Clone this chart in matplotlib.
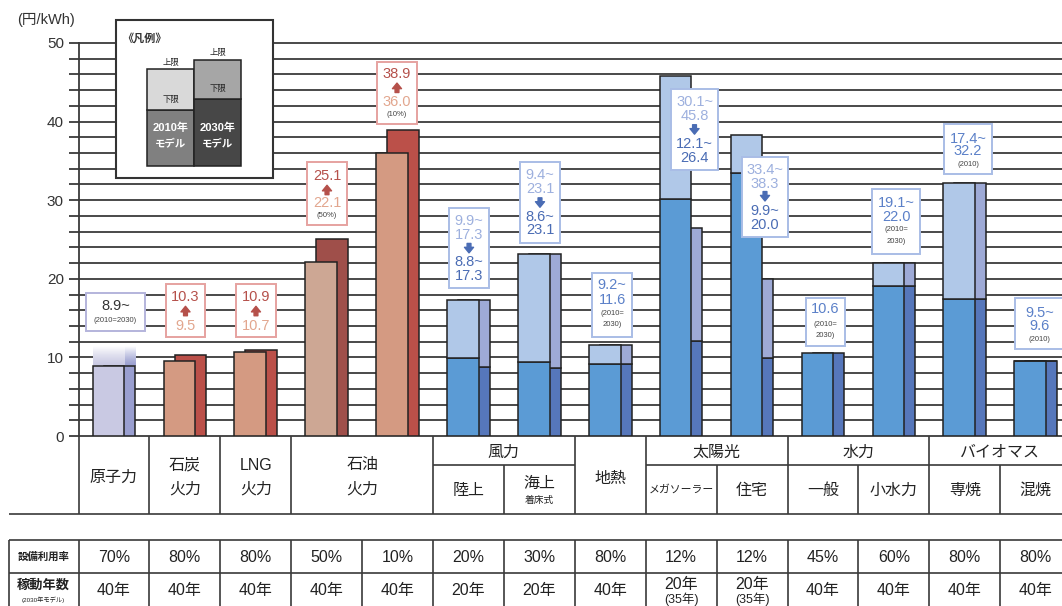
import numpy as np
import matplotlib.pyplot as plt
from matplotlib.patches import Rectangle
from matplotlib.colors import to_rgb

plt.rcParams['font.family'] = ['Liberation Sans', 'Noto Sans CJK JP', 'DejaVu Sans']

# 電源別発電コスト (円/kWh)  2010年モデル / 2030年モデル の下限・上限
sources = ['原子力', '石炭火力', 'LNG火力', '石油火力(50%)', '石油火力(10%)',
           '陸上風力', '海上風力', '地熱', 'メガソーラー', '住宅用太陽光',
           '一般水力', '小水力', 'バイオマス専焼', 'バイオマス混焼']
low_2010 = [8.9, 9.5, 10.7, 22.1, 36.0, 9.9, 9.4, 9.2, 30.1, 33.4, 10.6, 19.1, 17.4, 9.5]
high_2010 = [8.9, 9.5, 10.7, 22.1, 36.0, 17.3, 23.1, 11.6, 45.8, 38.3, 10.6, 22.0, 32.2, 9.6]
low_2030 = [8.9, 10.3, 10.9, 25.1, 38.9, 8.8, 8.6, 9.2, 12.1, 9.9, 10.6, 19.1, 17.4, 9.5]
high_2030 = [8.9, 10.3, 10.9, 25.1, 38.9, 17.3, 23.1, 11.6, 26.4, 20.0, 10.6, 22.0, 32.2, 9.6]
nuclear_open_top = 11.4   # 原子力は「8.9~」で上限なし

utilization = ['70%', '80%', '80%', '50%', '10%', '20%', '30%',
               '80%', '12%', '12%', '45%', '60%', '80%', '80%']
lifetime = ['40年', '40年', '40年', '40年', '40年', '20年', '20年',
            '40年', '20年', '20年', '40年', '40年', '40年', '40年']
lifetime_note = ['', '', '', '', '', '', '', '', '(35年)', '(35年)', '', '', '', '']

single_heads = [('原子力', 0, 1), ('石炭\n火力', 1, 2), ('LNG\n火力', 2, 3),
                ('石油\n火力', 3, 5), ('地熱', 7, 8)]
group_heads = [('風力', 5, 7), ('太陽光', 8, 10), ('水力', 10, 12), ('バイオマス', 12, 14)]
sub_heads = {5: '陸上', 6: '海上', 8: 'メガソーラー', 9: '住宅',
             10: '一般', 11: '小水力', 12: '専焼', 13: '混焼'}

# colour scheme per column
group = ['nuc', 'fos', 'fos', 'oil', 'fos'] + ['ren'] * 9
front_lo = {'nuc': '#c9c9e3', 'fos': '#d49a82', 'oil': '#cda794', 'ren': '#5b9bd5'}
front_hi = {'nuc': '#c9c9e3', 'fos': '#d49a82', 'oil': '#cda794', 'ren': '#b0c8e8'}
back_lo = {'nuc': '#9a9fd0', 'fos': '#bb5049', 'oil': '#9f4f4a', 'ren': '#5677bb'}
back_hi = {'nuc': '#9a9fd0', 'fos': '#bb5049', 'oil': '#9f4f4a', 'ren': '#9eaad6'}

# value boxes: column, x0, x1, y0, y1, kind, text centres
boxes = [
    (0, 0.106, 0.938, 13.4, 18.2, 'nuc', [16.6, 14.7]),
    (1, 1.234, 1.784, 12.6, 19.3, 'up', [17.7, 15.9, 14.0]),
    (2, 2.221, 2.785, 12.6, 19.3, 'up', [17.7, 15.9, 14.0]),
    (3, 3.223, 3.787, 26.8, 34.9, 'up', [33.1, 31.3, 29.6, 28.0]),
    (4, 4.210, 4.774, 39.7, 47.6, 'up', [46.1, 44.3, 42.5, 40.9]),
    (5, 5.226, 5.790, 18.8, 29.0, 'down', [27.4, 25.6, 23.9, 22.1, 20.3]),
    (6, 6.227, 6.791, 24.5, 34.9, 'down', [33.2, 31.4, 29.7, 27.8, 26.2]),
    (7, 7.243, 7.807, 12.6, 20.8, 'same', [19.2, 17.3, 15.6, 14.2]),
    (8, 8.357, 9.020, 33.8, 44.1, 'down', [42.5, 40.7, 39.0, 37.2, 35.4]),
    (9, 9.358, 10.007, 25.3, 35.5, 'down', [33.8, 32.1, 30.5, 28.6, 26.9]),
    (10, 10.261, 10.811, 11.4, 17.6, 'single', [16.1, 14.2, 12.8]),
    (11, 11.192, 11.869, 23.1, 31.4, 'same', [29.7, 27.9, 26.3, 24.7]),
    (12, 12.208, 12.885, 33.3, 39.7, 'y2010', [37.8, 36.2, 34.6]),
    (13, 13.209, 13.900, 11.1, 17.5, 'y2010', [15.7, 14.0, 12.3]),
]

LINE = '#3a3a3a'
EDGE = '#222222'

fig = plt.figure(figsize=(10.62, 6.06), dpi=100)
col_px = 70.9
L, W = 78.5 / 1062, 14 * col_px / 1062
ax = fig.add_axes([L, (606 - 436) / 606, W, 393 / 606])
ax.set_xlim(0, 14)
ax.set_ylim(0, 50)
for s in ['top', 'right', 'bottom']:
    ax.spines[s].set_visible(False)
ax.spines['left'].set_color(LINE)
ax.spines['left'].set_linewidth(1.3)
ax.set_xticks([])
yt = np.arange(0, 51, 2)
ax.set_yticks(yt)
ax.set_yticklabels([str(v) if v % 10 == 0 else '' for v in yt])
ax.tick_params(axis='y', length=7.5, width=1.3, color=LINE, labelsize=11,
               labelcolor='#333333', pad=3)
ax.yaxis.grid(True, color=LINE, lw=1.3)
ax.set_axisbelow(True)
for gl in ax.get_ygridlines():
    gl.set_clip_on(False)

x = np.arange(14)
bw = 0.445
for i in range(14):
    g = group[i]
    # 2030 model (behind, offset right)
    ax.bar(x[i] + 0.355, low_2030[i], bw, align='edge', color=back_lo[g],
           edgecolor=EDGE, lw=1.1, zorder=2)
    if high_2030[i] > low_2030[i]:
        ax.bar(x[i] + 0.355, high_2030[i] - low_2030[i], bw, bottom=low_2030[i],
               align='edge', color=back_hi[g], edgecolor=EDGE, lw=1.1, zorder=2)
    # 2010 model (front)
    ax.bar(x[i] + 0.2, low_2010[i], bw, align='edge', color=front_lo[g],
           edgecolor=EDGE, lw=1.1, zorder=3)
    if high_2010[i] > low_2010[i]:
        ax.bar(x[i] + 0.2, high_2010[i] - low_2010[i], bw, bottom=low_2010[i],
               align='edge', color=front_hi[g], edgecolor=EDGE, lw=1.1, zorder=3)

# open upper end of nuclear: fade to white
fade = np.linspace(0, 1, 64)[:, None, None] ** 1.4
for x0, c, z in [(0.355, back_lo['nuc'], 1.8), (0.2, front_lo['nuc'], 1.9)]:
    rgb = np.array(to_rgb(c))
    img = rgb * (1 - fade) + fade * np.ones(3)
    ax.imshow(img, extent=(x0, x0 + bw, low_2010[0], nuclear_open_top),
              origin='lower', aspect='auto', zorder=z)
ax.set_xlim(0, 14)
ax.set_ylim(0, 50)


def arrow(xc, y, up, color):
    d = 0.6 if up else -0.6
    ax.annotate('', xy=(xc, y + d), xytext=(xc, y - d), annotation_clip=False,
                arrowprops=dict(arrowstyle='simple,head_length=0.8,head_width=1.3,tail_width=0.55',
                                color=color, shrinkA=0, shrinkB=0, mutation_scale=5),
                zorder=6)


RED_DK, RED_LT = '#b5504a', '#e2a68e'
BLU_LT, BLU_DK, BLU_MD = '#9db0de', '#4a6cb4', '#5b80c8'
SMALL = '#444444'
for i, x0, x1, y0, y1, kind, ys in boxes:
    if group[i] in ('fos', 'oil'):
        ec = '#e6a2a0'
    elif group[i] == 'nuc':
        ec = '#b4b4dc'
    else:
        ec = '#a9bde6'
    ax.add_patch(Rectangle((x0, y0), x1 - x0, y1 - y0, facecolor='white',
                           edgecolor=ec, lw=1.4, zorder=5, clip_on=False))
    xc = (x0 + x1) / 2
    if kind == 'nuc':
        lines = [(f'{low_2010[i]:.1f}~', '#333333', 10.5), ('(2010=2030)', SMALL, 5.5)]
    elif kind == 'up':
        lines = [(f'{low_2030[i]:.1f}', RED_DK, 10.5), ('^', RED_DK, 0),
                 (f'{low_2010[i]:.1f}', RED_LT, 10.5)]
        if len(ys) == 4:
            lines.append((f'({utilization[i]})', SMALL, 5.5))
    elif kind == 'down':
        lines = [(f'{low_2010[i]:.1f}~', BLU_LT, 10.5), (f'{high_2010[i]:.1f}', BLU_LT, 10.5),
                 ('v', BLU_DK, 0),
                 (f'{low_2030[i]:.1f}~', BLU_DK, 10.5), (f'{high_2030[i]:.1f}', BLU_DK, 10.5)]
    elif kind == 'same':
        lines = [(f'{low_2010[i]:.1f}~', BLU_MD, 10.5), (f'{high_2010[i]:.1f}', BLU_MD, 10.5),
                 ('(2010=', SMALL, 5.5), ('2030)', SMALL, 5.5)]
    elif kind == 'single':
        lines = [(f'{low_2010[i]:.1f}', BLU_MD, 10.5), ('(2010=', SMALL, 5.5), ('2030)', SMALL, 5.5)]
    else:
        lines = [(f'{low_2010[i]:.1f}~', BLU_MD, 10.5), (f'{high_2010[i]:.1f}', BLU_MD, 10.5),
                 ('(2010)', SMALL, 5.5)]
    for (txt, c, fs), y in zip(lines, ys):
        if fs == 0:
            arrow(xc, y, txt == '^', c)
        else:
            ax.text(xc, y, txt, color=c, fontsize=fs, ha='center', va='center',
                    zorder=6, clip_on=False)

# legend
ax.add_patch(Rectangle((0.529, 32.82), 2.215, 20.05, facecolor='white',
                       edgecolor='#333333', lw=1.5, zorder=7, clip_on=False))
ax.text(0.62, 50.6, '《凡例》', fontsize=8, fontweight='bold', color='#333333',
        ha='left', va='center', zorder=8, clip_on=False)
leg = [(0.966, 41.5, 46.7, '#d9d9d9', '#808080', '2010年'),
       (1.629, 42.9, 47.9, '#a6a6a6', '#474747', '2030年')]
for lx, mid, top, c_hi, c_lo, yr in leg:
    w = 0.665
    ax.add_patch(Rectangle((lx, 34.36), w, mid - 34.36, facecolor=c_lo,
                           edgecolor=EDGE, lw=1.1, zorder=8, clip_on=False))
    ax.add_patch(Rectangle((lx, mid), w, top - mid, facecolor=c_hi,
                           edgecolor=EDGE, lw=1.1, zorder=8, clip_on=False))
    ax.text(lx + w / 2, top + 0.8, '上限', fontsize=6, color='#222222', ha='center',
            va='center', zorder=9, clip_on=False)
    ax.text(lx + w / 2, mid + 1.2, '下限', fontsize=6, color='#222222', ha='center',
            va='center', zorder=9, clip_on=False)
    ax.text(lx + w / 2, 39.2, yr, fontsize=8, fontweight='bold', color='white',
            ha='center', va='center', zorder=9, clip_on=False)
    ax.text(lx + w / 2, 37.1, 'モデル', fontsize=7.5, fontweight='bold', color='white',
            ha='center', va='center', zorder=9, clip_on=False)

fig.text(46 / 1062, 1 - 20 / 606, '(円/kWh)', fontsize=10.5, color='#333333',
         ha='center', va='center')

# category table and data table below the chart
tab = fig.add_axes([L, 0, W, 1])
tab.set_xlim(0, 14)
tab.set_ylim(606, 0)
tab.axis('off')
kw = dict(color=LINE, lw=1.2, clip_on=False)
lab_x = -(78.5 - 8.6) / col_px
tab.vlines([0, 1, 2, 3, 5, 7, 8, 10, 12, 14], 436, 514, **kw)
tab.vlines([6, 9, 11, 13], 464.6, 514, **kw)
tab.hlines(464.6, 5, 7, **kw)
tab.hlines(464.6, 8, 14, **kw)
tab.hlines(514, lab_x, 14, **kw)
tab.hlines([540, 573, 612], lab_x, 14, **kw)
tab.vlines([lab_x] + list(range(15)), 540, 612, **kw)

TXT = '#222222'
for name, a, b in single_heads:
    parts = name.split('\n')
    yc = 479 if name == '地熱' else 477
    if len(parts) == 1:
        tab.text((a + b) / 2, yc, name, fontsize=11.5, color=TXT, ha='center', va='center')
    else:
        for k, p in enumerate(parts):
            tab.text((a + b) / 2, 465 + 24 * k, p, fontsize=11.5, color=TXT,
                     ha='center', va='center')
for name, a, b in group_heads:
    tab.text((a + b) / 2, 452, name, fontsize=11.5, color=TXT, ha='center', va='center')
for c, name in sub_heads.items():
    if name == '海上':
        tab.text(c + 0.5, 483, name, fontsize=11.5, color=TXT, ha='center', va='center')
        tab.text(c + 0.5, 500, '着床式', fontsize=7, color=TXT, ha='center', va='center')
    elif name == 'メガソーラー':
        tab.text(c + 0.5, 490, name, fontsize=7.8, color=TXT, ha='center', va='center')
    else:
        tab.text(c + 0.5, 490, name, fontsize=11.5, color=TXT, ha='center', va='center')

tab.text(lab_x / 2, 557, '設備利用率', fontsize=7.5, fontweight='bold', color=TXT,
         ha='center', va='center', clip_on=False)
tab.text(lab_x / 2, 586, '稼動年数', fontsize=9.5, fontweight='bold', color=TXT,
         ha='center', va='center', clip_on=False)
tab.text(lab_x / 2, 600, '(2030年モデル)', fontsize=4.5, color=TXT,
         ha='center', va='center', clip_on=False)
for i in range(14):
    tab.text(i + 0.5, 557, utilization[i], fontsize=11.5, color=TXT, ha='center', va='center')
    if lifetime_note[i]:
        tab.text(i + 0.5, 584, lifetime[i], fontsize=11.5, color=TXT, ha='center', va='center')
        tab.text(i + 0.5, 599, lifetime_note[i], fontsize=9, color=TXT, ha='center', va='center')
    else:
        tab.text(i + 0.5, 590, lifetime[i], fontsize=11.5, color=TXT, ha='center', va='center')

fig.savefig('out.png', dpi=100)
